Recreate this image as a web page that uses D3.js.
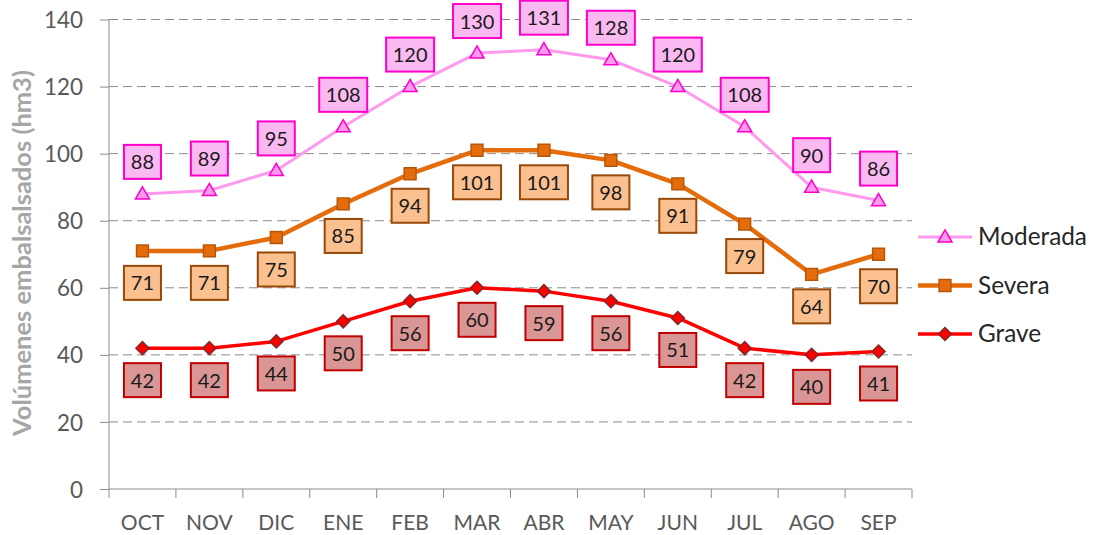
<!DOCTYPE html>
<html>
<head>
<meta charset="utf-8">
<script src="https://cdn.jsdelivr.net/npm/d3@7"></script>
<style>
  html, body { margin: 0; padding: 0; background: #fff; }
  svg { display: block; font-family: Lato, "Open Sans", sans-serif; }
</style>
</head>
<body>
<svg id="chart" width="1094" height="535"></svg>
<script>
// Monthly stored volume thresholds (hm3) per drought level
const months = ["OCT", "NOV", "DIC", "ENE", "FEB", "MAR", "ABR", "MAY", "JUN", "JUL", "AGO", "SEP"];
const moderada = [88, 89, 95, 108, 120, 130, 131, 128, 120, 108, 90, 86];
const severa = [71, 71, 75, 85, 94, 101, 101, 98, 91, 79, 64, 70];
const grave = [42, 42, 44, 50, 56, 60, 59, 56, 51, 42, 40, 41];
const yTicks = [0, 20, 40, 60, 80, 100, 120, 140];
const seriesNames = ["Moderada", "Severa", "Grave"];

const series = [
  { name: seriesNames[0], values: moderada, line: "#FF99EE", lineWidth: 3, marker: "triangle",
    markerFill: "#FF99EE", markerStroke: "#FF00CC", boxFill: "#FBB9F2", boxStroke: "#FF00CC", above: true },
  { name: seriesNames[1], values: severa, line: "#E46C0A", lineWidth: 4.5, marker: "square",
    markerFill: "#E46C0A", markerStroke: "#B65708", boxFill: "#FAC090", boxStroke: "#984807", above: false },
  { name: seriesNames[2], values: grave, line: "#FF0000", lineWidth: 3.5, marker: "diamond",
    markerFill: "#FF0000", markerStroke: "#7F2A2A", boxFill: "#D99694", boxStroke: "#C00000", above: false }
];

const svg = d3.select("#chart");
const plotLeft = 109, plotRight = 912, plotTop = 19.5, plotBottom = 489;

// font size that makes a text element span the given width
function fittedSize(sel, width) {
  const base = parseFloat(sel.style("font-size"));
  const len = sel.node().getComputedTextLength();
  return len > 0 ? (base * width / len).toFixed(2) + "px" : base + "px";
}

const x = d3.scaleBand().domain(months).range([plotLeft, plotRight]);
const y = d3.scaleLinear().domain([0, 140]).range([plotBottom, plotTop]);

// horizontal dashed gridlines
svg.append("g").selectAll("line")
  .data(yTicks.filter(d => d > 0))
  .join("line")
  .attr("x1", plotLeft).attr("x2", plotRight)
  .attr("y1", d => y(d)).attr("y2", d => y(d))
  .attr("stroke", "#8C8C8C").attr("stroke-width", 1)
  .attr("stroke-dasharray", "9,5");

// y axis
const yAxis = svg.append("g")
  .attr("transform", `translate(${plotLeft},0)`)
  .call(d3.axisLeft(y).tickValues(yTicks).tickSize(9).tickPadding(17));
yAxis.select(".domain").attr("stroke", "#8C8C8C").attr("d", `M0,${plotBottom}V${plotTop}`);
yAxis.selectAll(".tick line").attr("stroke", "#8C8C8C");
const yLabels = yAxis.selectAll(".tick text").attr("fill", "#595959").style("font-size", "22px")
  .style("font-family", "Lato, sans-serif").attr("dy", "0.36em");
const yLabelSize = fittedSize(yLabels.filter(d => d === 140), 39);
yLabels.style("font-size", yLabelSize);

// x axis with ticks at category boundaries
const xAxis = svg.append("g").attr("transform", `translate(0,${plotBottom})`);
xAxis.append("line").attr("x1", plotLeft).attr("x2", plotRight).attr("y1", 0).attr("y2", 0)
  .attr("stroke", "#8C8C8C");
const bounds = months.map(m => x(m)).concat([plotRight]);
xAxis.selectAll("line.tk").data(bounds).join("line").attr("class", "tk")
  .attr("x1", d => d).attr("x2", d => d).attr("y1", 0).attr("y2", 9)
  .attr("stroke", "#8C8C8C");
xAxis.selectAll("text").data(months).join("text")
  .attr("x", d => x(d) + x.bandwidth() / 2).attr("y", 41)
  .attr("text-anchor", "middle").attr("fill", "#595959").style("font-size", "21px")
  .text(d => d);

// y axis title
const yTitle = svg.append("text")
  .attr("transform", `translate(31,253) rotate(-90)`)
  .attr("text-anchor", "middle")
  .attr("fill", "#A6A6A6").style("font-size", "20px").style("font-weight", "bold")
  .text("Volúmenes embalsalsados (hm3)");
yTitle.style("font-size", fittedSize(yTitle, 366));

// diamond drawn as a square turned 45 degrees
const symbolFor = {
  triangle: { gen: d3.symbol().type(d3.symbolTriangle).size(85), rot: 0, dy: 1 },
  square: { gen: d3.symbol().type(d3.symbolSquare).size(140), rot: 0, dy: 0 },
  diamond: { gen: d3.symbol().type(d3.symbolSquare).size(85), rot: 45, dy: 0 }
};

const cx = d => x(d) + x.bandwidth() / 2;

series.forEach(s => {
  const pts = months.map((m, i) => [cx(m), y(s.values[i])]);
  const sym = symbolFor[s.marker];
  svg.append("path")
    .attr("d", d3.line()(pts))
    .attr("fill", "none").attr("stroke", s.line).attr("stroke-width", s.lineWidth)
    .attr("stroke-linejoin", "round");
  svg.append("g").selectAll("path").data(pts).join("path")
    .attr("transform", d => `translate(${d[0]},${d[1] + sym.dy}) rotate(${sym.rot})`)
    .attr("d", sym.gen())
    .attr("fill", s.markerFill).attr("stroke", s.markerStroke).attr("stroke-width", 1.5);
});

// value labels in boxes
series.forEach(s => {
  const g = svg.append("g");
  months.forEach((m, i) => {
    const v = s.values[i];
    const txt = String(v);
    const w = txt.length === 3 ? 48 : 37;
    const h = 34;
    const py = y(v);
    const by = s.above ? py - 15 - h : py + 15;
    g.append("rect")
      .attr("x", cx(m) - w / 2).attr("y", by).attr("width", w).attr("height", h)
      .attr("fill", s.boxFill).attr("stroke", s.boxStroke).attr("stroke-width", 2);
    g.append("text")
      .attr("x", cx(m)).attr("y", by + h / 2 + 7.5)
      .attr("text-anchor", "middle").attr("fill", "#1a1a1a").style("font-size", "20px")
      .text(txt);
  });
});

// legend
const legend = svg.append("g");
let legendSize = null;
series.forEach((s, i) => {
  const ly = 237 + i * 48.5;
  const sym = symbolFor[s.marker];
  legend.append("line").attr("x1", 918).attr("x2", 972).attr("y1", ly).attr("y2", ly)
    .attr("stroke", s.line).attr("stroke-width", s.lineWidth);
  legend.append("path")
    .attr("transform", `translate(945,${ly + sym.dy}) rotate(${sym.rot})`)
    .attr("d", sym.gen())
    .attr("fill", s.markerFill).attr("stroke", s.markerStroke).attr("stroke-width", 1.5);
  const t = legend.append("text").attr("x", 978).attr("y", ly + 8)
    .attr("fill", "#262626").style("font-size", "20px").text(s.name);
  if (legendSize === null) legendSize = fittedSize(t, 109);
  t.style("font-size", legendSize);
});
</script>
</body>
</html>
